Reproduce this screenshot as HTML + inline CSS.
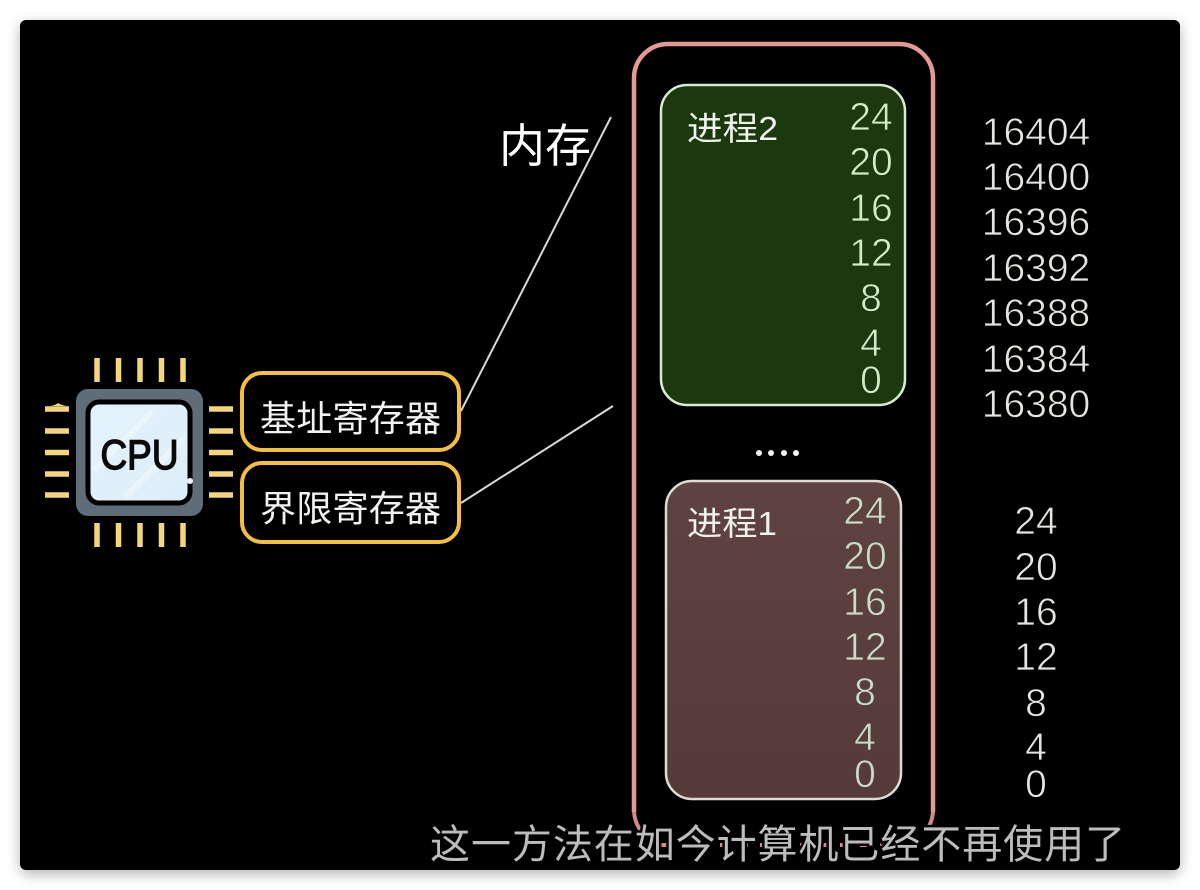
<!DOCTYPE html>
<html><head><meta charset="utf-8">
<style>
html,body{margin:0;padding:0;background:#fff;width:1200px;height:890px;overflow:hidden}
svg{display:block}
text{font-family:"Liberation Sans","Noto Sans CJK SC",sans-serif}
.g{fill:#d0ecca;font-size:39px;text-anchor:middle;stroke:#1b380e;stroke-width:.7}
.r{fill:#cbdcc5;font-size:39px;text-anchor:middle;stroke:#5a3f3d;stroke-width:.7}
.w{fill:#e2e6df;font-size:39px;text-anchor:middle;stroke:#000;stroke-width:.7}
.reg{fill:#f2f2f2;font-size:36px}
</style></head><body>
<svg width="1200" height="890" viewBox="0 0 1200 890" xmlns="http://www.w3.org/2000/svg">
<defs>
<filter id="s" x="-5%" y="-5%" width="110%" height="110%"><feGaussianBlur stdDeviation="7"/></filter>
<linearGradient id="br" x1="0" y1="0" x2="0" y2="1"><stop offset="0" stop-color="#5f4341"/><stop offset="1" stop-color="#553a39"/></linearGradient>
<linearGradient id="chip" x1="0" y1="0" x2="1" y2="1"><stop offset="0" stop-color="#e4f2fb"/><stop offset="1" stop-color="#dceefa"/></linearGradient>
</defs>
<rect width="1200" height="890" fill="#fff"/>
<rect x="20" y="24" width="1160" height="850" rx="8" fill="#000" opacity=".3" filter="url(#s)"/>
<rect x="20" y="20" width="1160" height="850" rx="6" fill="#000"/>

<!-- memory outline -->
<path d="M634 812V78a34 34 0 0 1 34-34H899a34 34 0 0 1 34 34V812" fill="none" stroke="#e39a94" stroke-width="4.5"/>
<path d="M634 812q1 12 8 20M933 812q-1 12-8 20" fill="none" stroke="#d08a85" stroke-width="4"/>
<path d="M660 845H920" stroke="#d4888f" stroke-width="4" stroke-dasharray="8 12" fill="none"/>

<!-- process 2 -->
<rect x="661" y="85" width="244" height="320" rx="26" fill="#1b380e" stroke="#d9ead3" stroke-width="2.500"/>
<text x="687" y="140" fill="#f0f5ec" font-size="33" textLength="91" lengthAdjust="spacingAndGlyphs">进程2</text>
<text class="g" x="871" y="130">24</text>
<text class="g" x="871" y="175">20</text>
<text class="g" x="871" y="221">16</text>
<text class="g" x="871" y="266">12</text>
<text class="g" x="871" y="311">8</text>
<text class="g" x="871" y="356">4</text>
<text class="g" x="871" y="393">0</text>

<!-- dots -->
<g fill="#f2f2f2"><circle cx="759" cy="453" r="3"/><circle cx="771" cy="453" r="3"/><circle cx="784" cy="453" r="3"/><circle cx="796" cy="453" r="3"/></g>

<!-- process 1 -->
<rect x="666" y="481" width="235" height="318" rx="26" fill="url(#br)" stroke="#dcdcd4" stroke-width="2.500"/>
<text x="687" y="535" fill="#f0f0ec" font-size="33" textLength="90" lengthAdjust="spacingAndGlyphs">进程1</text>
<text class="r" x="865" y="524">24</text>
<text class="r" x="865" y="569">20</text>
<text class="r" x="865" y="615">16</text>
<text class="r" x="865" y="660">12</text>
<text class="r" x="865" y="705">8</text>
<text class="r" x="865" y="750">4</text>
<text class="r" x="865" y="787">0</text>

<!-- right addresses -->
<text class="w" x="1036" y="145">16404</text>
<text class="w" x="1036" y="190">16400</text>
<text class="w" x="1036" y="235">16396</text>
<text class="w" x="1036" y="281">16392</text>
<text class="w" x="1036" y="326">16388</text>
<text class="w" x="1036" y="372">16384</text>
<text class="w" x="1036" y="417">16380</text>
<text class="w" x="1036" y="534">24</text>
<text class="w" x="1036" y="580">20</text>
<text class="w" x="1036" y="625">16</text>
<text class="w" x="1036" y="670">12</text>
<text class="w" x="1036" y="716">8</text>
<text class="w" x="1036" y="760">4</text>
<text class="w" x="1036" y="797">0</text>

<!-- memory label and lines -->
<text x="499" y="162" fill="#fff" font-size="46">内存</text>
<line x1="461" y1="411" x2="611" y2="117" stroke="#d8d8d8" stroke-width="2"/>
<line x1="461" y1="503" x2="613" y2="406" stroke="#d8d8d8" stroke-width="2"/>

<!-- registers -->
<rect x="242" y="373" width="217" height="77" rx="20" fill="#000" stroke="#f4bf3f" stroke-width="4"/>
<text class="reg" x="260" y="431" textLength="181">基址寄存器</text>
<rect x="242" y="463" width="217" height="79" rx="20" fill="#000" stroke="#f4bf3f" stroke-width="4"/>
<text class="reg" x="260" y="521" textLength="181">界限寄存器</text>

<!-- CPU pins -->
<g stroke="#f3d57b" stroke-width="5.500" fill="none">
<path d="M97 358v24M118.500 358v24M140 358v24M161.500 358v24M183 358v24"/>
<path d="M97 523v24M118.500 523v24M140 523v24M161.500 523v24M183 523v24"/>
<path d="M45 409h24M45 431h24M45 452.500h24M45 474h24M45 495h24"/>
<path d="M209 409h24M209 431h24M209 452.500h24M209 474h24M209 495h24"/>
</g>
<path d="M50 406q6-1 8-3q3 2 9 3z" fill="#f3d57b"/>
<!-- CPU body -->
<rect x="76" y="389" width="127" height="127" rx="12" fill="#5f6d78"/>
<rect x="88" y="402" width="102" height="101" rx="11" fill="url(#chip)" stroke="#000" stroke-width="5"/>
<g stroke="#eef7fd" stroke-width="6" opacity=".8"><path d="M94 470L152 412M125 497L184 438"/></g>
<circle cx="190" cy="481" r="3" fill="#f0f0f0"/>
<text x="139.500" y="469" fill="#0a0a0a" font-size="42" text-anchor="middle" textLength="78" lengthAdjust="spacingAndGlyphs" stroke="#0a0a0a" stroke-width="1.400">CPU</text>

<!-- subtitle -->
<text x="430" y="858" fill="#bcbcbc" font-size="40" textLength="695" stroke="#000" stroke-width="5" paint-order="stroke">这一方法在如今计算机已经不再使用了</text>
</svg>
</body></html>
